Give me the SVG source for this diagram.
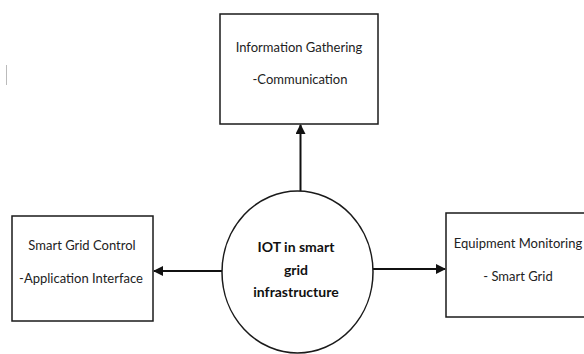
<svg xmlns="http://www.w3.org/2000/svg" width="584" height="354" viewBox="0 0 584 354">
<defs>
<style>
.box{fill:#fff;stroke:#1a1a1a;stroke-width:1.5}
.t{font-family:Lato,"Open Sans",sans-serif;font-size:13px;fill:#222;text-anchor:middle}
.b{font-family:Lato,"Open Sans",sans-serif;font-size:14px;font-weight:bold;fill:#111;text-anchor:middle}
.c{stroke:#111;stroke-width:2;fill:none}
</style>
<marker id="ah" viewBox="0 0 10 10" refX="9" refY="5" markerWidth="5" markerHeight="5" orient="auto" markerUnits="strokeWidth">
<path d="M0,0 L10,5 L0,10 Z" fill="#111"/>
</marker>
</defs>
<rect width="584" height="354" fill="#fff"/>
<line x1="6.5" y1="65" x2="6.5" y2="85" stroke="#bbb" stroke-width="1"/>
<g id="connectors">
<line class="c" x1="300.5" y1="191" x2="300.5" y2="125" marker-end="url(#ah)"/>
<line class="c" x1="222" y1="271" x2="154" y2="271" marker-end="url(#ah)"/>
<line class="c" x1="373" y1="269" x2="445" y2="269" marker-end="url(#ah)"/>
</g>
<g id="info">
<rect class="box" x="220" y="14" width="158" height="110"/>
<text class="t" x="299" y="52">Information Gathering</text>
<text class="t" x="300" y="84">-Communication</text>
</g>
<g id="control">
<rect class="box" x="12" y="216" width="141" height="105"/>
<text class="t" x="82" y="250">Smart Grid Control</text>
<text class="t" x="81" y="283">-Application Interface</text>
</g>
<g id="monitoring">
<rect class="box" x="446" y="213" width="150" height="104"/>
<text class="t" x="518" y="248">Equipment Monitoring</text>
<text class="t" x="518" y="281">- Smart Grid</text>
</g>
<g id="iot">
<ellipse class="box" cx="297.5" cy="272" rx="75.5" ry="81"/>
<text class="b" x="296" y="252">IOT in smart</text>
<text class="b" x="296" y="275">grid</text>
<text class="b" x="296" y="297">infrastructure</text>
</g>
</svg>
